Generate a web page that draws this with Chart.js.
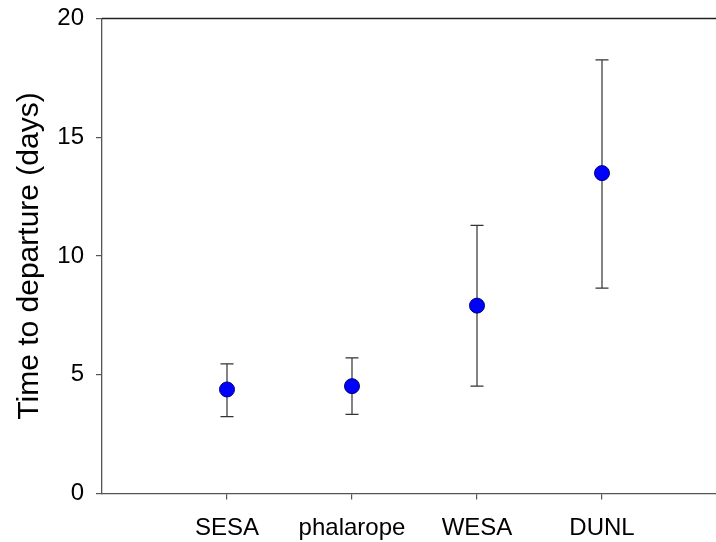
<!DOCTYPE html>
<html lang="en">
<head>
  <meta charset="UTF-8">
  <title>Time to departure</title>
  <script src="https://cdn.jsdelivr.net/npm/chart.js"></script>
  <style>
    html, body { margin: 0; padding: 0; overflow: hidden; background: #fff; }
    #wrap { width: 760px; height: 542px; }
  </style>
</head>
<body>
  <div id="wrap"><canvas id="myChart" width="760" height="542"></canvas></div>

  <script>
    // data
    const categories = ['SESA', 'phalarope', 'WESA', 'DUNL'];
    const means = [4.38, 4.52, 7.91, 13.49];
    const upper = [5.46, 5.71, 11.29, 18.26];
    const lower = [3.24, 3.33, 4.52, 8.65];
    const yTicks = [0, 5, 10, 15, 20];

    const points = means.map((v, i) => ({ x: i + 1, y: v }));

    // error bars + frame line at top, drawn with the chart scales
    const errorBars = {
      id: 'errorBars',
      beforeDatasetsDraw(chart) {
        const ctx = chart.ctx;
        const xs = chart.scales.x, ys = chart.scales.y;
        ctx.save();
        ctx.strokeStyle = '#333';
        ctx.lineWidth = 1.2;
        for (let i = 0; i < means.length; i++) {
          const px = xs.getPixelForValue(i + 1);
          const top = ys.getPixelForValue(upper[i]);
          const bot = ys.getPixelForValue(lower[i]);
          ctx.beginPath();
          ctx.moveTo(px, top); ctx.lineTo(px, bot);
          ctx.moveTo(px - 6.5, top); ctx.lineTo(px + 6.5, top);
          ctx.moveTo(px - 6.5, bot); ctx.lineTo(px + 6.5, bot);
          ctx.stroke();
        }
        // top frame
        const a = chart.chartArea;
        ctx.strokeStyle = '#222';
        ctx.lineWidth = 1.3;
        ctx.beginPath();
        ctx.moveTo(a.left, a.top); ctx.lineTo(a.right, a.top);
        ctx.stroke();
        ctx.restore();
      }
    };

    Chart.defaults.font.family = '"Liberation Sans", Arial, sans-serif';
    Chart.defaults.color = '#000';

    new Chart(document.getElementById('myChart'), {
      type: 'scatter',
      data: {
        datasets: [{
          data: points,
          backgroundColor: '#0000ff',
          borderColor: '#00007a',
          borderWidth: 1,
          pointRadius: 7.5,
          pointHoverRadius: 7.5
        }]
      },
      options: {
        responsive: false,
        animation: false,
        layout: { padding: { top: 18.5, right: 33, left: 0, bottom: 0 } },
        plugins: { legend: { display: false }, tooltip: { enabled: false } },
        scales: {
          x: {
            type: 'linear',
            min: 0,
            max: categories.length + 1,
            afterBuildTicks(scale) {
              scale.ticks = categories.map((c, i) => ({ value: i + 1 }));
            },
            afterFit(scale) {
              scale.height = 48.5;
              scale.paddingLeft = 0;
              scale.paddingRight = 0;
            },
            ticks: {
              font: { size: 24 },
              padding: 14,
              maxRotation: 0,
              autoSkip: false,
              callback: (v) => categories[v - 1]
            },
            grid: { drawOnChartArea: false, tickLength: 6, color: '#555', lineWidth: 1.2 },
            border: { color: '#555', width: 1.3 }
          },
          y: {
            min: 0,
            max: 20,
            afterBuildTicks(scale) {
              scale.ticks = yTicks.map(v => ({ value: v }));
            },
            afterFit(scale) {
              scale.width = 102;
              scale.paddingTop = 0;
              scale.paddingBottom = 0;
            },
            ticks: { font: { size: 24 }, padding: 12 },
            grid: { drawOnChartArea: false, tickLength: 6, color: '#555', lineWidth: 1.2 },
            border: { color: '#555', width: 1.3 },
            title: {
              display: true,
              text: 'Time to departure (days)',
              font: { size: 30 },
              padding: { top: 12, bottom: 0 }
            }
          }
        }
      },
      plugins: [errorBars]
    });
  </script>
</body>
</html>
